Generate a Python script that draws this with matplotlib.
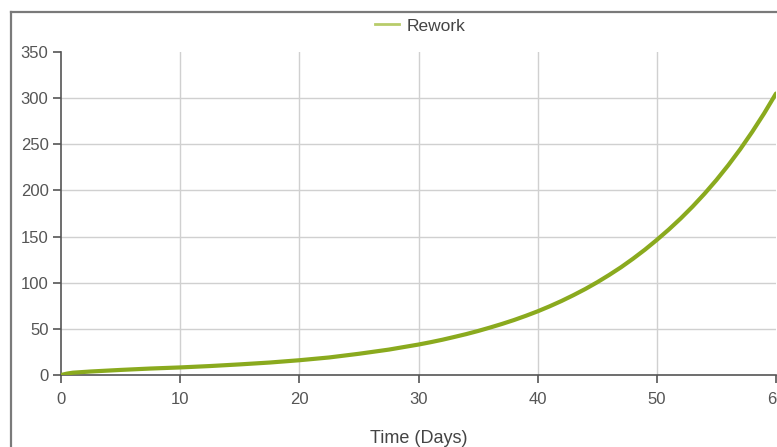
import matplotlib
matplotlib.use("Agg")
import matplotlib.pyplot as plt
from matplotlib.lines import Line2D

days = [0, 0.5, 1, 2.5, 5, 7.5, 10, 12.5, 15, 17.5, 20, 22.5, 25, 27.5, 30,
        31, 32, 33, 34, 35, 36, 37, 38, 39, 40,
        41, 42, 43, 44, 45, 46, 47, 48, 49, 50,
        51, 52, 53, 54, 55, 56, 57, 58, 59, 60]
rework = [0, 1.5, 2.5, 3.8, 5.5, 7.0, 8.2, 9.7, 11.5, 13.5, 16, 19, 23, 27.5, 33,
          35.5, 38.2, 41.2, 44.3, 47.7, 51.4, 55.3, 59.5, 64.1, 69,
          74.4, 80.2, 86.5, 93.2, 100.5, 108.4, 116.8, 126, 135.8, 146.4,
          157.6, 169.6, 182.5, 196.4, 211.3, 227.4, 244.7, 263.4, 283.4, 305]
xticks = [0, 10, 20, 30, 40, 50, 60]
yticks = [0, 50, 100, 150, 200, 250, 300, 350]

plt.rcParams['font.family'] = ['Liberation Sans', 'DejaVu Sans']

W, H = 777, 447
fig = plt.figure(figsize=(W / 100, H / 100), dpi=100)
ax = fig.add_axes([61 / W, 1 - 375 / H, (776 - 61) / W, (375 - 52) / H])

line_color = '#8aaa1e'
ax.plot(days, rework, color=line_color, lw=3.0, solid_capstyle='round',
        solid_joinstyle='round', label='Rework', zorder=3)

ax.set_xlim(0, 60)
ax.set_ylim(0, 350)
ax.set_xticks(xticks)
ax.set_yticks(yticks)

for s in ['top', 'right']:
    ax.spines[s].set_visible(False)
for s in ['left', 'bottom']:
    ax.spines[s].set_color('#555555')
    ax.spines[s].set_linewidth(1.2)

ax.tick_params(axis='both', colors='#555555', labelcolor='#555555', labelsize=12,
               length=6, width=1.2, direction='out')
ax.tick_params(axis='x', pad=6)
ax.tick_params(axis='y', pad=3)

ax.grid(True, color='#d0d0d0', lw=1.0, zorder=0)
for gl, t in zip(ax.get_ygridlines(), yticks):
    if t in (0, 350):
        gl.set_visible(False)
for gl, t in zip(ax.get_xgridlines(), xticks):
    if t in (0, 60):
        gl.set_visible(False)
ax.set_axisbelow(True)

ax.set_xlabel('Time (Days)', fontsize=13, color='#444444', labelpad=17)

leg_handle = Line2D([], [], color='#b8cc6a', lw=2.0)
fig.legend([leg_handle], ['Rework'], loc='center', bbox_to_anchor=(420 / W, 1 - 26 / H),
           frameon=False, fontsize=12.5, handlelength=1.4, handletextpad=0.4,
           labelcolor='#444444')

frame_col = '#7a7a7a'
fig.add_artist(Line2D([11 / W, 11 / W], [0, 1 - 12 / H], color=frame_col, lw=1.6,
                      transform=fig.transFigure))
fig.add_artist(Line2D([11 / W, 1], [1 - 12 / H, 1 - 12 / H], color=frame_col, lw=1.6,
                      transform=fig.transFigure))

fig.savefig('out.png', dpi=100)
